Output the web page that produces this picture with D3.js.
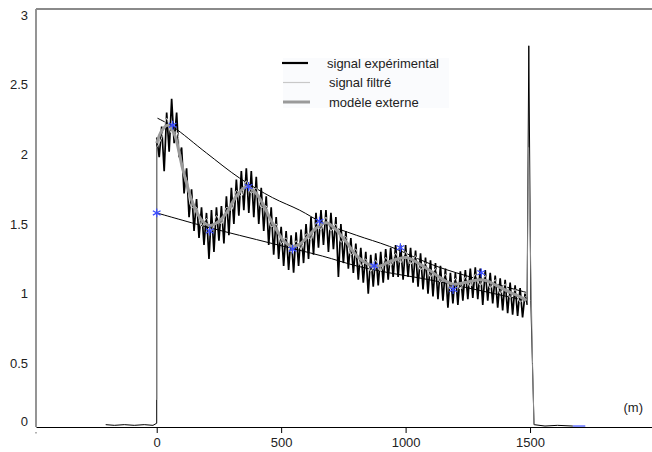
<!DOCTYPE html>
<html>
<head>
<meta charset="utf-8">
<script src="https://cdn.jsdelivr.net/npm/d3@7"></script>
<style>
  html, body { margin: 0; padding: 0; background: #fff; }
  svg { display: block; font-family: "Liberation Sans", Arial, sans-serif; }
</style>
</head>
<body>
<div id="chart"></div>
<script>
// ---- data (distance in m, signal value) ----
const xTicks = [0, 500, 1000, 1500];
const yTicks = [0, 0.5, 1, 1.5, 2, 2.5, 3];

// experimental signal: flat part before the start
const expBefore = [[-205, 0.06], [-170, 0.055], [-130, 0.06], [-90, 0.055], [-50, 0.06], [-15, 0.055], [0, 0.07], [0, 0.24]];
// experimental signal, one sample every 10 m from 0 to 1480
const expStep = 10;
const expValues = [
  2.12, 1.98, 2.20, 1.88, 2.30, 2.02, 2.40, 2.08, 2.30, 1.98,
  2.05, 1.72, 1.90, 1.55, 1.75, 1.45, 1.68, 1.40, 1.62, 1.35,
  1.58, 1.25, 1.60, 1.30, 1.62, 1.38, 1.63, 1.36, 1.70, 1.42,
  1.76, 1.50, 1.82, 1.56, 1.88, 1.60, 1.90, 1.58, 1.88, 1.55,
  1.84, 1.50, 1.76, 1.45, 1.70, 1.35, 1.62, 1.28, 1.55, 1.25,
  1.48, 1.20, 1.45, 1.17, 1.42, 1.15, 1.44, 1.20, 1.46, 1.22,
  1.50, 1.25, 1.55, 1.28, 1.58, 1.33, 1.60, 1.35, 1.60, 1.30,
  1.58, 1.32, 1.55, 1.12, 1.50, 1.22, 1.45, 1.18, 1.40, 1.15,
  1.36, 1.10, 1.33, 1.08, 1.30, 1.00, 1.28, 1.05, 1.29, 1.06,
  1.30, 1.08, 1.32, 1.10, 1.33, 1.12, 1.35, 1.12, 1.35, 1.10,
  1.35, 1.12, 1.33, 1.08, 1.31, 1.05, 1.29, 1.03, 1.26, 1.00,
  1.24, 0.98, 1.22, 0.96, 1.20, 0.95, 1.18, 0.90, 1.15, 0.93,
  1.15, 0.92, 1.16, 0.95, 1.17, 0.96, 1.18, 0.97, 1.19, 0.96,
  1.18, 0.92, 1.17, 0.95, 1.15, 0.93, 1.13, 0.90, 1.11, 0.88,
  1.10, 0.86, 1.08, 0.85, 1.06, 0.84, 1.04, 0.83, 1.00
];
// end spike and flat part after it
const expAfter = [[1480, 1.00], [1488, 0.92], [1495, 2.78], [1503, 0.95], [1516, 0.06], [1560, 0.05], [1610, 0.055], [1672, 0.05]];
const expTailBlue = [[1672, 0.05], [1722, 0.05]];

// filtered signal, one sample every 20 m from 0 to 1480
const filtStep = 20;
const filtValues = [
  2.05, 2.12, 2.26, 2.15, 2.16, 1.90, 1.82, 1.62, 1.62, 1.48,
  1.54, 1.45, 1.56, 1.50, 1.62, 1.60, 1.74, 1.70, 1.81, 1.72,
  1.76, 1.62, 1.63, 1.48, 1.50, 1.36, 1.40, 1.30, 1.38, 1.32,
  1.43, 1.39, 1.51, 1.46, 1.55, 1.45, 1.50, 1.37, 1.41, 1.28,
  1.32, 1.20, 1.25, 1.16, 1.24, 1.16, 1.26, 1.20, 1.29, 1.22,
  1.30, 1.21, 1.27, 1.17, 1.22, 1.12, 1.18, 1.08, 1.14, 1.03,
  1.11, 1.03, 1.12, 1.05, 1.14, 1.06, 1.13, 1.04, 1.10, 1.00,
  1.07, 0.97, 1.03, 0.94, 0.98
];
const filtStart = [[0, 0.24], [0, 2.05]];
const filtEnd = [[1480, 0.98], [1488, 0.98], [1494, 2.05], [1510, 0.5], [1516, 0.06]];

// external model (smooth damped oscillation)
const modelDist = [0, 20, 44, 70, 104, 145, 180, 213, 250, 280, 320, 361, 395, 425, 455, 481, 510, 541, 570, 602,
  640, 682, 720, 762, 810, 866, 900, 935, 1003, 1050, 1095, 1135, 1187, 1240, 1296, 1330, 1364, 1420, 1468, 1485];
const modelVal = [2.08, 2.17, 2.21, 2.15, 1.90, 1.65, 1.53, 1.49, 1.52, 1.58, 1.70, 1.77, 1.73, 1.65, 1.54, 1.46, 1.38, 1.34, 1.35, 1.40,
  1.47, 1.51, 1.46, 1.37, 1.26, 1.20, 1.20, 1.23, 1.26, 1.22, 1.17, 1.12, 1.07, 1.08, 1.10, 1.09, 1.06, 1.01, 0.97, 0.95];

// envelopes
const upperDist = [3, 64, 200, 333, 465, 574, 666, 802, 935, 1135, 1484];
const upperVal = [2.26, 2.20, 2.01, 1.83, 1.69, 1.60, 1.51, 1.42, 1.34, 1.19, 1.01];
const lowerDist = [0, 200, 465, 666, 802, 935, 1095, 1484];
const lowerVal = [1.58, 1.48, 1.36, 1.27, 1.20, 1.15, 1.10, 0.95];

// blue star markers
const starDist = [0, 64, 213, 369, 546, 654, 874, 979, 1191, 1304];
const starVal = [1.58, 2.21, 1.45, 1.77, 1.32, 1.52, 1.20, 1.33, 1.03, 1.15];

const legendItems = [
  { label: "signal expérimental", color: "#000", width: 2.2, dx: 0 },
  { label: "signal filtré", color: "#c8c8c8", width: 1.2, dx: 2 },
  { label: "modèle externe", color: "#9a9a9a", width: 3, dx: 2 }
];

// ---- drawing ----
const W = 652, H = 452;
const x = d3.scaleLinear().domain([-485, 1990]).range([36, 652]);
const y = d3.scaleLinear().domain([0, 3.044]).range([433, 9]);
const axisY = 427;

const svg = d3.select("#chart").append("svg").attr("width", W).attr("height", H);
svg.append("rect").attr("width", W).attr("height", H).attr("fill", "#fff");

const line = d3.line().x(d => x(d[0])).y(d => y(d[1]));
const smooth = d3.line().x(d => x(d[0])).y(d => y(d[1])).curve(d3.curveCatmullRom.alpha(0.5));

const expMain = expValues.map((v, i) => [i * expStep, v]);
const filtMain = filtValues.map((v, i) => [i * filtStep, v]);
const model = modelDist.map((m, i) => [m, modelVal[i]]);
const upper = upperDist.map((m, i) => [m, upperVal[i]]);
const lower = lowerDist.map((m, i) => [m, lowerVal[i]]);

// legend box (very faint)
svg.append("rect").attr("x", 283).attr("y", 58).attr("width", 166).attr("height", 50).attr("fill", "#fafbfd");

// experimental signal
const gExp = svg.append("g").attr("fill", "none").attr("stroke", "#000").attr("stroke-width", 1);
gExp.append("path").attr("d", line(expBefore));
gExp.append("path").attr("d", line(expMain)).attr("stroke-width", 1.7).attr("stroke-linejoin", "bevel");
gExp.append("path").attr("d", line([[0, 0.24], [0, expValues[0]]]));
gExp.append("path").attr("d", line(expAfter));
svg.append("path").attr("d", line(expTailBlue)).attr("fill", "none").attr("stroke", "#3a4cff").attr("stroke-width", 1.2);

// envelopes
svg.append("path").attr("d", smooth(upper)).attr("fill", "none").attr("stroke", "#000").attr("stroke-width", 1);
svg.append("path").attr("d", smooth(lower)).attr("fill", "none").attr("stroke", "#000").attr("stroke-width", 1);

// filtered signal
const gFilt = svg.append("g").attr("fill", "none").attr("stroke", "#8c8c8c").attr("stroke-width", 1);
gFilt.append("path").attr("d", line(filtStart));
gFilt.append("path").attr("d", smooth(filtMain)).attr("stroke", "#e2e2e2");
gFilt.append("path").attr("d", line(filtEnd));

// model
svg.append("path").attr("d", smooth(model)).attr("fill", "none").attr("stroke", "#9a9a9a").attr("stroke-width", 3);

// stars
svg.append("g").selectAll("path").data(starDist).join("path")
  .attr("transform", (m, i) => `translate(${x(m)},${y(starVal[i])})`)
  .attr("d", d3.symbol(d3.symbolAsterisk, 55))
  .attr("fill", "none").attr("stroke", "#3a4cff").attr("stroke-width", 1.2);

// frame: left axis and top border in gray
svg.append("line").attr("x1", 36).attr("x2", 36).attr("y1", 9).attr("y2", axisY).attr("stroke", "#7a7a7a").attr("stroke-width", 1.6);
svg.append("line").attr("x1", 36).attr("x2", W).attr("y1", 9).attr("y2", 9).attr("stroke", "#8a8a8a").attr("stroke-width", 1.8);

// x axis
const xAxis = svg.append("g").attr("transform", `translate(0,${axisY})`)
  .call(d3.axisBottom(x).tickValues(xTicks).tickSize(6).tickSizeOuter(0).tickPadding(5).tickFormat(d3.format("d")));
xAxis.select(".domain").attr("stroke", "#000").attr("stroke-width", 1.2);
xAxis.selectAll(".tick line").attr("stroke", "#000");
xAxis.selectAll("text").attr("fill", "#222").style("font-size", "13px")
  .style("font-family", "'Liberation Sans', Arial, sans-serif");
// small mark at the left end of the axis
svg.append("rect").attr("x", 35.5).attr("y", 432).attr("width", 1).attr("height", 1.5).attr("fill", "#666");

// y axis labels (no tick marks)
const yAxis = svg.append("g").attr("transform", "translate(36,0)")
  .call(d3.axisLeft(y).tickValues(yTicks).tickSize(0).tickPadding(8).tickFormat(d3.format("")));
yAxis.select(".domain").remove();
yAxis.selectAll("text").attr("fill", "#222").style("font-size", "13px")
  .style("font-family", "'Liberation Sans', Arial, sans-serif");
// the bottom label sits just above the x axis
yAxis.selectAll(".tick").filter(d => d === 0).attr("transform", `translate(0,${axisY - 5})`);

// unit
svg.append("text").attr("x", 643).attr("y", 412).attr("text-anchor", "end")
  .attr("fill", "#222").style("font-size", "13px").text("(m)");

// legend
const lg = svg.append("g");
legendItems.forEach((d, i) => {
  const ly = 63 + i * 19.5;
  lg.append("line").attr("x1", 282 + d.dx / 2).attr("x2", 308 + d.dx).attr("y1", ly).attr("y2", ly)
    .attr("stroke", d.color).attr("stroke-width", d.width);
  lg.append("text").attr("x", 327 + d.dx).attr("y", ly + 4.5).attr("fill", "#222")
    .style("font-size", "13px").text(d.label);
});
</script>
</body>
</html>
